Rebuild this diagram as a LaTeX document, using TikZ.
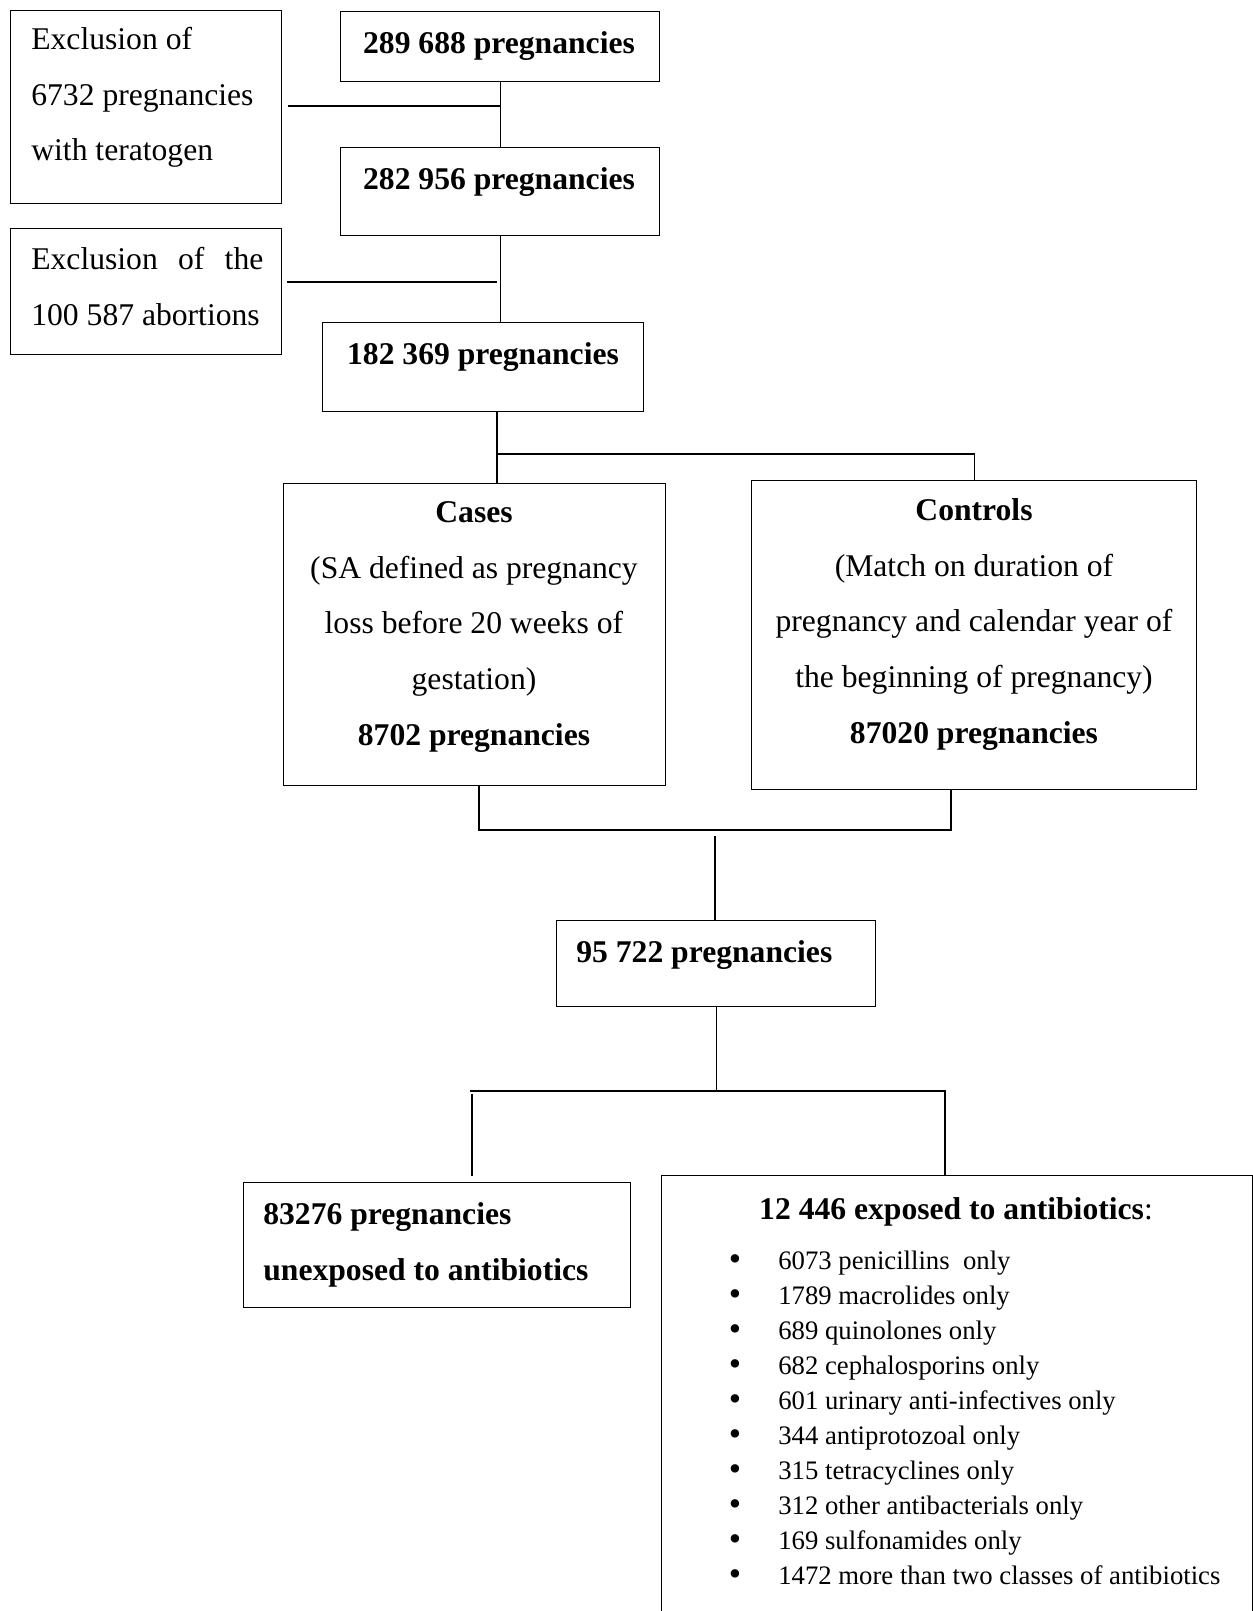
\documentclass[tikz,border=0pt]{standalone}
\usepackage{fontspec}
\setmainfont{Liberation Serif}
\tikzset{
  box/.style={draw,line width=0.8pt,inner sep=0pt,anchor=north west},
  boxsize/.style 2 args={minimum width=#1*0.02cm,minimum height=#2*0.02cm},
  txt/.style={font=\fontsize{18}{31.6}\selectfont,inner sep=0pt,anchor=base},
  lefttxt/.style={txt,anchor=base west,align=left},
  listtxt/.style={font=\fontsize{15.2}{20}\selectfont,inner sep=0pt,anchor=base west},
  link/.style={line width=0.8pt},
}
\begin{document}
\begin{tikzpicture}[x=0.02cm,y=-0.02cm]
  \useasboundingbox (0,0) rectangle (1253,1611);
  % ---------------- top: exclusions (multi-line texts sit on their last baseline)
  \node[box,boxsize={271}{193}] (exA) at (10,10) {};
  \node[lefttxt] (exAtxt) at (31,161) {Exclusion of\\6732 pregnancies\\with teratogen};
  \node[box,boxsize={319}{70}] (n1) at (340,11) {};
  \node[txt] (n1txt) at (499,54) {\textbf{289 688 pregnancies}};
  \node[box,boxsize={319}{88}] (n2) at (340,147) {};
  \node[txt] (n2txt) at (499,190) {\textbf{282 956 pregnancies}};
  \node[box,boxsize={271}{126}] (exB) at (10,228) {};
  \node[txt,anchor=base west,text width=232*0.02cm,align=justify] (exBtxt) at (31,270)
     {Exclusion of the 100~587~abortions};
  \node[box,boxsize={321}{89}] (n3) at (322,322) {};
  \node[txt] (n3txt) at (483,365) {\textbf{182 369 pregnancies}};
  \coordinate (tA) at (288,106);
  \coordinate (tB) at (287,282);
  \draw[link] (n1.south) -- (n2.north);
  \draw[link] (tA) -- (tA -| n1.south);
  \draw[link] (n2.south) -- (n2.south |- n3.north);
  \draw[link] (tB) -- (497,282);
  % ---------------- cases and controls
  \node[box,boxsize={382}{302}] (cases) at (283,483) {};
  \node[txt,align=center] (casestxt) at (474,745)
     {\textbf{Cases}\\(SA defined as pregnancy\\loss before 20 weeks of\\gestation)\\\textbf{8702 pregnancies}};
  \node[box,boxsize={445}{309}] (controls) at (751,480) {};
  \node[txt,align=center] (controlstxt) at (974,743)
     {\textbf{Controls}\\(Match on duration of\\pregnancy and calendar year of\\the beginning of pregnancy)\\\textbf{87020 pregnancies}};
  \coordinate (s3) at (497,454);
  \draw[link] (s3 |- n3.south) -- (s3 |- cases.north);
  \draw[link] (s3) -- (s3 -| controls.north) -- (controls.north);
  \coordinate (m1) at (479,830);
  \coordinate (m2) at (951,830);
  \draw[link] (m1 |- cases.south) -- (m1) -- (m2) -- (m2 |- controls.south);
  % ---------------- matched set
  \node[box,boxsize={319}{86}] (n4) at (556,920) {};
  \node[txt,anchor=base west] (n4txt) at (576,962) {\textbf{95 722 pregnancies}};
  \coordinate (m3) at (715,836);
  \draw[link] (m3) -- (m3 |- n4.north);
  % ---------------- exposure split
  \node[box,boxsize={387}{125}] (unexp) at (243,1182) {};
  \node[lefttxt] (unexptxt) at (263,1280) {\textbf{83276 pregnancies}\\\textbf{unexposed to antibiotics}};
  \node[box,boxsize={591}{445}] (expo) at (661,1175) {};
  \node[txt] (expotxt) at (956,1219) {\textbf{12 446 exposed to antibiotics}:};
  \coordinate (sL) at (470,1091);
  \coordinate (sR) at (945,1091);
  \coordinate (sLL) at (472,1094);
  \draw[link] (n4.south) -- (n4.south |- sL);
  \draw[link] (sL) -- (sR) -- (sR |- expo.north);
  \draw[link] (sLL) -- (sLL |- 0,1176);
  \foreach \lbl [count=\i from 0] in {6073 penicillins\ \ only,1789 macrolides only,689 quinolones only,
      682 cephalosporins only,601 urinary anti-infectives only,344 antiprotozoal only,
      315 tetracyclines only,312 other antibacterials only,169 sulfonamides only,
      1472 more than two classes of antibiotics}{
    \node[listtxt,anchor=base,font=\fontsize{20}{20}\selectfont] (bul\i) at (735,{1270+35.1*\i}) {\textbullet};
    \node[listtxt] (item\i) at (778,{1269+35.1*\i}) {\lbl};
  }
\end{tikzpicture}
\end{document}
